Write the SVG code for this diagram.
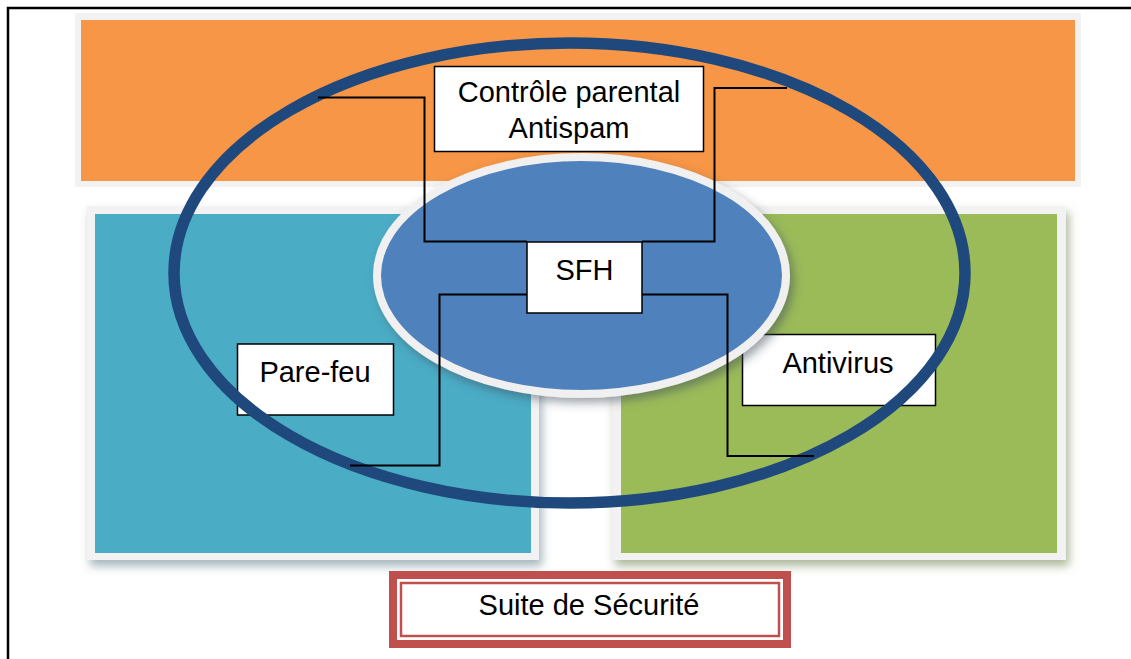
<svg xmlns="http://www.w3.org/2000/svg" width="1131" height="659" viewBox="0 0 1131 659">
<defs>
<filter id="sh" x="-10%" y="-10%" width="125%" height="130%">
<feDropShadow dx="3" dy="6" stdDeviation="5" flood-color="#5a7a86" flood-opacity="0.55"/>
</filter>
<filter id="shg" x="-10%" y="-10%" width="125%" height="130%">
<feDropShadow dx="3" dy="6" stdDeviation="5" flood-color="#6b7d4a" flood-opacity="0.55"/>
</filter>
<filter id="she" x="-10%" y="-10%" width="125%" height="130%">
<feDropShadow dx="4" dy="5" stdDeviation="5" flood-color="#3a4a5a" flood-opacity="0.5"/>
</filter>
<style>
.lbl{fill:#fff;stroke:#000;stroke-width:1.5}
.t{font-family:"Liberation Sans",Arial,sans-serif;font-size:29px;fill:#000;text-anchor:middle}
.con{fill:none;stroke:#000;stroke-width:2}
</style>
</defs>
<rect x="0" y="0" width="1131" height="659" fill="#fff"/>
<path d="M8 659 V8 H1131" fill="none" stroke="#000" stroke-width="2.5"/>

<g id="zone-orange">
<rect x="75" y="13" width="1006" height="174" fill="#f2f2f2"/>
<rect x="81" y="20" width="994" height="161" fill="#f79646"/>
</g>
<g id="zone-blue">
<rect x="87" y="206" width="452" height="354" fill="#f2f2f2" filter="url(#sh)"/>
<rect x="95" y="214" width="436" height="339" fill="#4bacc6"/>
</g>
<g id="zone-green">
<rect x="612" y="206" width="454" height="354" fill="#f2f2f2" filter="url(#shg)"/>
<rect x="621" y="214" width="436" height="339" fill="#9bbb59"/>
</g>

<g id="pare-feu">
<rect class="lbl" x="237.5" y="344" width="156" height="71"/>
<text class="t" x="315" y="382">Pare-feu</text>
</g>
<g id="antivirus">
<rect class="lbl" x="742.5" y="334.5" width="193" height="71"/>
<text class="t" x="838" y="373">Antivirus</text>
</g>

<g id="sfh-ellipse">
<ellipse cx="581.5" cy="275.5" rx="204.5" ry="118.5" fill="#4f81bd" stroke="#f0f0f0" stroke-width="8" filter="url(#she)"/>
</g>

<g id="suite-ellipse">
<ellipse cx="569.5" cy="273" rx="395.5" ry="230" fill="none" stroke="#1f497d" stroke-width="11.5"/>
</g>

<g id="controle">
<rect class="lbl" x="434.5" y="66.5" width="269" height="85"/>
<text class="t" x="569" y="102">Contrôle parental</text>
<text class="t" x="569" y="138">Antispam</text>
</g>

<g id="connectors">
<path class="con" d="M318 97.5 H424.5 V241.5 H527"/>
<path class="con" d="M642 241.5 H714.5 V88 H787"/>
<path class="con" d="M527 294.5 H439.5 V465.5 H350"/>
<path class="con" d="M642 294.5 H727.5 V456 H814"/>
</g>

<g id="sfh">
<rect class="lbl" x="527" y="242" width="115" height="71"/>
<text class="t" x="584.5" y="280">SFH</text>
</g>

<g id="suite">
<rect x="393" y="575" width="394" height="69" fill="#fff" stroke="#c0504d" stroke-width="8"/>
<rect x="401" y="583" width="378" height="53" fill="#fff" stroke="#c0504d" stroke-width="2.5"/>
<text class="t" x="589" y="615">Suite de Sécurité</text>
</g>
</svg>
